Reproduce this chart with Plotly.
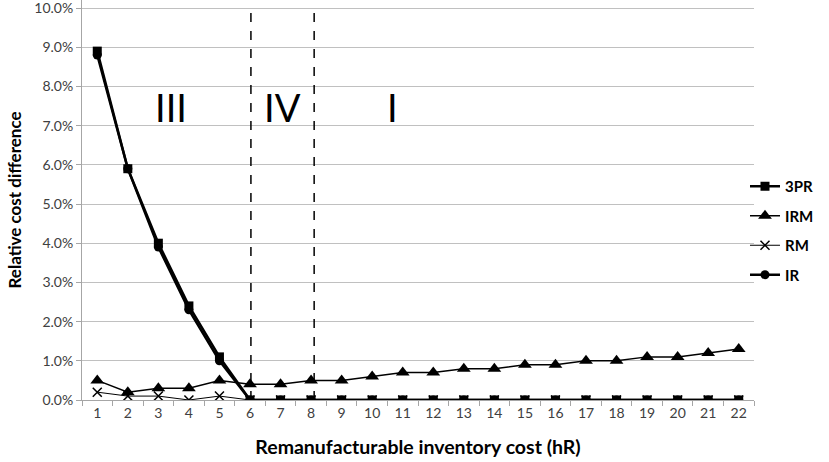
import plotly.graph_objects as go

x_vals = list(range(1, 23))
pr3 = [8.9, 5.9, 4.0, 2.4, 1.1] + [0.0] * 17
irm = [0.5, 0.2, 0.3, 0.3, 0.5, 0.4, 0.4, 0.5, 0.5, 0.6, 0.7, 0.7,
       0.8, 0.8, 0.9, 0.9, 1.0, 1.0, 1.1, 1.1, 1.2, 1.3]
rm = [0.2, 0.1, 0.1, 0.0, 0.1] + [0.0] * 17
ir = [8.8, 5.9, 3.9, 2.3, 1.0] + [0.0] * 17
y_ticks = list(range(0, 11))
y_tick_text = [f"{v:.1f}%" for v in y_ticks]

region_x = [6.03, 8.1]
region_labels = ["III", "IV", "I"]
region_label_x = [3.42, 7.06, 10.67]
region_label_y = 7.47

FONT = "Lato"
fig = go.Figure()
fig.add_trace(go.Scatter(x=x_vals, y=ir, name="IR", mode="lines+markers",
                         line=dict(color="black", width=2.5),
                         marker=dict(symbol="circle", size=9, color="black"),
                         legendrank=4, legendgroup="d"))
fig.add_trace(go.Scatter(x=x_vals, y=rm, name="RM", mode="lines+markers",
                         line=dict(color="black", width=1),
                         marker=dict(symbol="x-thin", size=9, line=dict(color="black", width=1.5)),
                         legendrank=3, legendgroup="c"))
fig.add_trace(go.Scatter(x=x_vals, y=irm, name="IRM", mode="lines+markers",
                         line=dict(color="black", width=1.5),
                         marker=dict(symbol="triangle-up", size=12, color="black"),
                         legendrank=2, legendgroup="b"))
fig.add_trace(go.Scatter(x=x_vals, y=pr3, name="3PR", mode="lines+markers",
                         line=dict(color="black", width=2.5),
                         marker=dict(symbol="square", size=9, color="black"),
                         legendrank=1, legendgroup="a"))

for xv in region_x:
    fig.add_shape(type="line", x0=xv, x1=xv, y0=0, y1=10, xref="x", yref="y",
                  line=dict(color="black", width=1.5, dash="dash"))

for lab, lx in zip(region_labels, region_label_x):
    fig.add_annotation(x=lx, y=region_label_y, text=lab, showarrow=False,
                       font=dict(family=FONT, size=38, color="black"))

fig.update_layout(
    width=829, height=462,
    margin=dict(l=82, r=75, t=0, b=62),
    plot_bgcolor="white", paper_bgcolor="white",
    font=dict(family=FONT, size=14, color="#404040"),
    showlegend=True,
    legend=dict(x=0.9866, xanchor="left", y=0.575, yanchor="top",
                font=dict(family=FONT, size=15, color="black", weight="bold"),
                tracegroupgap=7, itemwidth=30, bgcolor="rgba(0,0,0,0)"),
    xaxis=dict(range=[0.5, 22.5], tickvals=x_vals, ticktext=[str(v) for v in x_vals],
               ticks="", showgrid=False, zeroline=False,
               showline=True, linecolor="#a6a6a6", linewidth=1,
               tickfont=dict(family=FONT, size=14, color="#404040"),
               minor=dict(tickvals=[v + 0.5 for v in range(0, 23)], ticks="outside",
                          ticklen=5, tickcolor="#a6a6a6", showgrid=False),
               title=dict(text="Remanufacturable inventory cost (hR)", standoff=20,
                          font=dict(family=FONT, size=19.5, color="black", weight="bold"))),
    yaxis=dict(range=[0, 10.204], tickvals=y_ticks, ticktext=y_tick_text,
               showgrid=True, gridcolor="#c0c0c0", gridwidth=1, zeroline=False,
               showline=True, linecolor="#a6a6a6", linewidth=1,
               ticks="outside", ticklen=5, tickcolor="#a6a6a6",
               ticklabeloverflow="allow",
               tickfont=dict(family=FONT, size=14, color="#404040"),
               title=dict(text="Relative cost difference", standoff=8,
                          font=dict(family=FONT, size=17, color="black", weight="bold"))),
)

fig.write_html("out.html", config={"displayModeBar": False},
               post_script="document.body.style.margin='0';")
